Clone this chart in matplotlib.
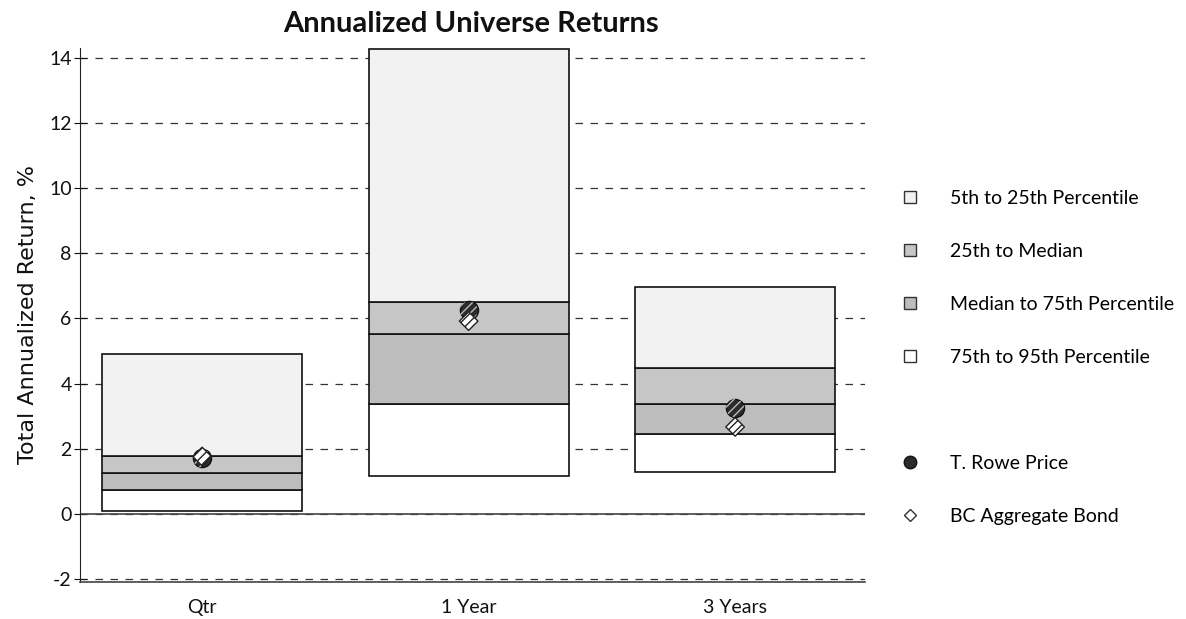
import numpy as np
import matplotlib.pyplot as plt
from matplotlib.lines import Line2D

plt.rcParams['font.family'] = ['Lato', 'DejaVu Sans']
plt.rcParams['axes.unicode_minus'] = False

# Universe percentile ranges, %
periods = ['Qtr', '1 Year', '3 Years']
p5 = [4.90, 14.27, 6.96]
p25 = [1.78, 6.50, 4.48]
median = [1.26, 5.52, 3.37]
p75 = [0.74, 3.37, 2.45]
p95 = [0.09, 1.17, 1.29]

# Portfolio and benchmark returns, %
t_rowe = [1.70, 6.25, 3.25]
bc_agg = [1.76, 5.92, 2.67]

band_colors = ['#f2f2f2', '#c6c6c6', '#bdbdbd', '#ffffff']
band_labels = ['5th to 25th Percentile', '25th to Median',
               'Median to 75th Percentile', '75th to 95th Percentile']

fig = plt.figure(figsize=(11.86, 6.19), dpi=100)
ax = fig.add_axes([0.0675, 0.060, 0.662, 0.8625])

x = np.arange(len(periods))
width = 0.75

# stacked bands from the bottom (95th) up to the top (5th)
edges = [p95, p75, median, p25, p5]
fills = band_colors[::-1]
for i in range(4):
    lo = np.array(edges[i])
    hi = np.array(edges[i + 1])
    ax.bar(x, hi - lo, width, bottom=lo, color=fills[i],
           edgecolor='#111111', linewidth=1.2, zorder=3)

# T. Rowe Price: dark circle with light stripes
ax.scatter(x, t_rowe, s=170, color='#2b2b2b', edgecolors='#111111',
           linewidths=1.0, zorder=5)
ax.scatter(x, t_rowe, s=170, facecolors='none', edgecolors='#bbbbbb',
           hatch='////', linewidths=0, zorder=6)
# BC Aggregate Bond: white diamond with dark stripes
ax.scatter(x, bc_agg, s=90, marker='D', facecolors='white',
           edgecolors='#222222', hatch='////', linewidths=1.0, zorder=7)

ax.set_xlim(-0.458, 2.488)
ax.set_ylim(-2.09, 14.31)
ax.set_yticks(np.arange(-2, 15, 2))
ax.set_xticks(x)
ax.set_xticklabels(periods)
ax.yaxis.grid(True, linestyle=(0, (6, 6)), color='#333333', linewidth=0.9)
ax.set_axisbelow(True)
ax.axhline(0, color='#444444', linewidth=1.2, zorder=2)

for side in ['top', 'right']:
    ax.spines[side].set_visible(False)
ax.spines['left'].set_color('#222222')
ax.spines['bottom'].set_color('#444444')
ax.spines['bottom'].set_linewidth(1.2)
ax.tick_params(axis='y', direction='inout', length=8, labelsize=14,
               colors='#111111', pad=2)
ax.tick_params(axis='x', length=0, labelsize=14, pad=12, colors='#111111')

ax.set_ylabel('Total Annualized Return, %', fontsize=16, labelpad=8,
              color='#111111', family='DejaVu Sans')
fig.text(0.397, 0.962, 'Annualized Universe Returns', ha='center',
         va='center', fontsize=21, fontweight='bold', color='#111111')

handles = []
for c in band_colors:
    handles.append(Line2D([], [], marker='s', linestyle='none',
                          markersize=8, markerfacecolor=c,
                          markeredgecolor='#333333', markeredgewidth=1.0))
handles.append(Line2D([], [], linestyle='none'))
handles.append(Line2D([], [], marker='o', linestyle='none', markersize=9,
                      markerfacecolor='#2b2b2b', markeredgecolor='#111111'))
handles.append(Line2D([], [], marker='D', linestyle='none', markersize=6,
                      markerfacecolor='white', markeredgecolor='#333333'))
labels = band_labels + [''] + ['T. Rowe Price', 'BC Aggregate Bond']

fig.legend(handles, labels, loc='upper left', bbox_to_anchor=(0.744, 0.721),
           frameon=False, fontsize=14, labelspacing=1.85, handlelength=1.0,
           handletextpad=1.6)

fig.savefig('out.png', dpi=100)
